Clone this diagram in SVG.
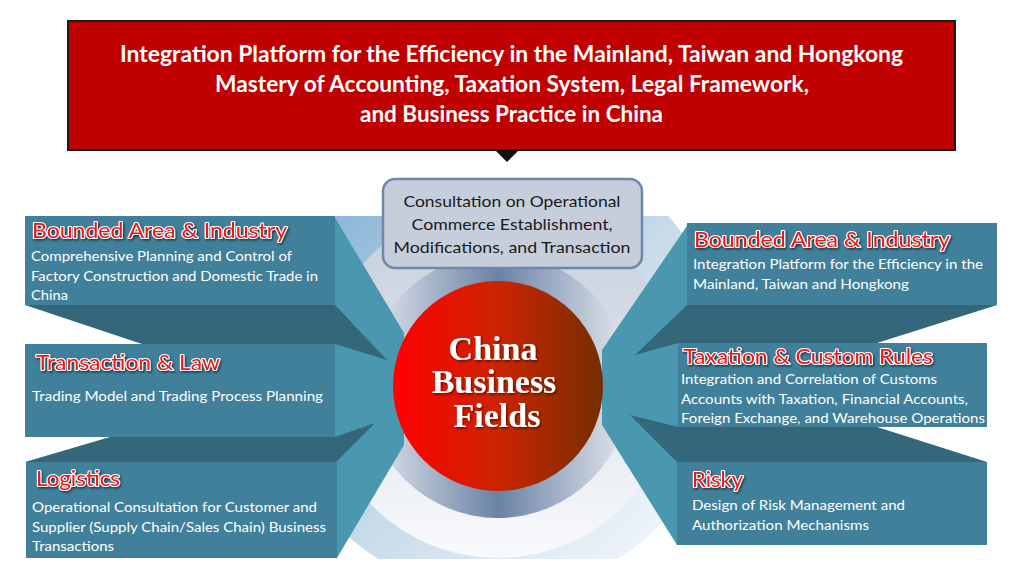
<svg xmlns="http://www.w3.org/2000/svg" width="1014" height="569" viewBox="0 0 1014 569">
<defs>
<linearGradient id="gOuter" x1="0" y1="0" x2="1" y2="1">
<stop offset="0" stop-color="#76a9d0"/>
<stop offset="0.55" stop-color="#c9dcea"/>
<stop offset="1" stop-color="#ffffff"/>
</linearGradient>
<linearGradient id="gMid" x1="0" y1="0" x2="0" y2="1">
<stop offset="0" stop-color="#c3ccda"/>
<stop offset="1" stop-color="#f9fafc"/>
</linearGradient>
<linearGradient id="gRing" x1="0" y1="0" x2="1" y2="0">
<stop offset="0" stop-color="#e6e9ef"/>
<stop offset="0.5" stop-color="#6a82a5"/>
<stop offset="1" stop-color="#e6e9ef"/>
</linearGradient>
<linearGradient id="gRed" x1="0" y1="0" x2="1" y2="0">
<stop offset="0" stop-color="#ff0000"/>
<stop offset="0.5" stop-color="#cc2400"/>
<stop offset="1" stop-color="#742e00"/>
</linearGradient>
<clipPath id="bgClip"><rect x="300" y="216" width="420" height="343"/></clipPath>
<filter id="shadow" x="-10%" y="-20%" width="130%" height="160%">
<feDropShadow dx="1.2" dy="1.5" stdDeviation="0.8" flood-color="#000" flood-opacity="0.55"/>
</filter>
</defs>
<style>
.front{fill:#41809a}
.side{fill:#4a97b0}
.dark{fill:#336779}
.hdr{font-family:Lato,"Open Sans",sans-serif;font-size:21px;fill:#f01414;stroke:#ffffff;stroke-width:2.2px;paint-order:stroke;stroke-linejoin:round}
.desc{font-family:Lato,"Open Sans",sans-serif;font-size:14px;fill:#ffffff}
.title{font-family:Lato,"Open Sans",sans-serif;font-size:22px;font-weight:bold;fill:#ffffff}
.cons{font-family:Lato,"Open Sans",sans-serif;font-size:16px;fill:#1a1a1a;text-anchor:middle}
.core{font-family:"Liberation Serif",serif;font-size:34px;font-weight:bold;fill:#ffffff;text-anchor:middle}
</style>

<g id="background" clip-path="url(#bgClip)">
<circle cx="498" cy="366" r="227" fill="url(#gOuter)"/>
<circle cx="498" cy="380" r="178" fill="url(#gMid)"/>
<circle cx="498" cy="386" r="132" fill="url(#gRing)"/>
</g>

<g id="connectors">
<polygon class="side" points="334,216 404,333 404,445 337,558 334,558"/>
<polygon class="side" points="689,223 602,350 602,425 677,545 689,545"/>
</g>

<g id="title-box">
<rect x="68" y="21" width="887" height="129" fill="#c00000" stroke="#1a1a1a" stroke-width="2"/>
<polygon points="495,150 519,150 507,162" fill="#111111"/>
<text class="title" x="120" y="62" textLength="783" lengthAdjust="spacingAndGlyphs">Integration Platform for the Efficiency in the Mainland, Taiwan and Hongkong</text>
<text class="title" x="215" y="92" textLength="594" lengthAdjust="spacingAndGlyphs">Mastery of Accounting, Taxation System, Legal Framework,</text>
<text class="title" x="360" y="122" textLength="303" lengthAdjust="spacingAndGlyphs">and Business Practice in China</text>
</g>

<g id="consultation">
<rect x="383" y="179" width="259" height="89" rx="12" fill="#c6cddb" stroke="#6f87aa" stroke-width="2.5"/>
<text class="cons" x="512" y="207" textLength="217" lengthAdjust="spacingAndGlyphs">Consultation on Operational</text>
<text class="cons" x="512" y="230" textLength="201" lengthAdjust="spacingAndGlyphs">Commerce Establishment,</text>
<text class="cons" x="512" y="253" textLength="237" lengthAdjust="spacingAndGlyphs">Modifications, and Transaction</text>
</g>

<g id="left-1">
<rect class="front" x="25" y="216" width="310" height="89"/>
<polygon class="dark" points="25,305 335,305 387,360 335,344 142,344"/>
<text class="hdr" x="32" y="238" textLength="255" lengthAdjust="spacingAndGlyphs" filter="url(#shadow)">Bounded Area &amp; Industry</text>
<text class="desc" x="31" y="261" textLength="261" lengthAdjust="spacingAndGlyphs">Comprehensive Planning and Control of</text>
<text class="desc" x="31" y="281" textLength="287" lengthAdjust="spacingAndGlyphs">Factory Construction and Domestic Trade in</text>
<text class="desc" x="31" y="300" textLength="37" lengthAdjust="spacingAndGlyphs">China</text>
</g>

<g id="left-2">
<rect class="front" x="25" y="344" width="310" height="93"/>
<polygon class="dark" points="110,437 335,437 375,423 336,462 25,462"/>
<text class="hdr" x="36" y="370" textLength="184" lengthAdjust="spacingAndGlyphs" filter="url(#shadow)">Transaction &amp; Law</text>
<text class="desc" x="32" y="401" textLength="291" lengthAdjust="spacingAndGlyphs">Trading Model and Trading Process Planning</text>
</g>

<g id="left-3">
<rect class="front" x="26" y="462" width="311" height="96"/>
<text class="hdr" x="36" y="486" textLength="84" lengthAdjust="spacingAndGlyphs" filter="url(#shadow)">Logistics</text>
<text class="desc" x="32" y="512" textLength="285" lengthAdjust="spacingAndGlyphs">Operational Consultation for Customer and</text>
<text class="desc" x="32" y="532" textLength="294" lengthAdjust="spacingAndGlyphs">Supplier (Supply Chain/Sales Chain) Business</text>
<text class="desc" x="32" y="551" textLength="82" lengthAdjust="spacingAndGlyphs">Transactions</text>
</g>

<g id="right-1">
<rect class="front" x="687" y="223" width="310" height="82"/>
<polygon class="dark" points="687,305 997,305 877,343 678,343 635,355"/>
<text class="hdr" x="694" y="247" textLength="256" lengthAdjust="spacingAndGlyphs" filter="url(#shadow)">Bounded Area &amp; Industry</text>
<text class="desc" x="693" y="269" textLength="290" lengthAdjust="spacingAndGlyphs">Integration Platform for the Efficiency in the</text>
<text class="desc" x="693" y="289" textLength="216" lengthAdjust="spacingAndGlyphs">Mainland, Taiwan and Hongkong</text>
</g>

<g id="right-2">
<rect class="front" x="678" y="343" width="309" height="84"/>
<polygon class="dark" points="630,415 678,427 877,427 987,462 677,462"/>
<text class="hdr" x="683" y="364" textLength="250" lengthAdjust="spacingAndGlyphs" filter="url(#shadow)">Taxation &amp; Custom Rules</text>
<text class="desc" x="681" y="384" textLength="256" lengthAdjust="spacingAndGlyphs">Integration and Correlation of Customs</text>
<text class="desc" x="681" y="404" textLength="287" lengthAdjust="spacingAndGlyphs">Accounts with Taxation, Financial Accounts,</text>
<text class="desc" x="681" y="423" textLength="304" lengthAdjust="spacingAndGlyphs">Foreign Exchange, and Warehouse Operations</text>
</g>

<g id="right-3">
<rect class="front" x="677" y="462" width="310" height="83"/>
<text class="hdr" x="692" y="487" textLength="51" lengthAdjust="spacingAndGlyphs" filter="url(#shadow)">Risky</text>
<text class="desc" x="692" y="510" textLength="213" lengthAdjust="spacingAndGlyphs">Design of Risk Management and</text>
<text class="desc" x="692" y="530" textLength="177" lengthAdjust="spacingAndGlyphs">Authorization Mechanisms</text>
</g>

<g id="core">
<circle cx="498" cy="386" r="105" fill="url(#gRed)"/>
<g filter="url(#shadow)">
<text class="core" x="493" y="360">China</text>
<text class="core" x="494" y="393">Business</text>
<text class="core" x="497" y="427">Fields</text>
</g>
</g>
</svg>
